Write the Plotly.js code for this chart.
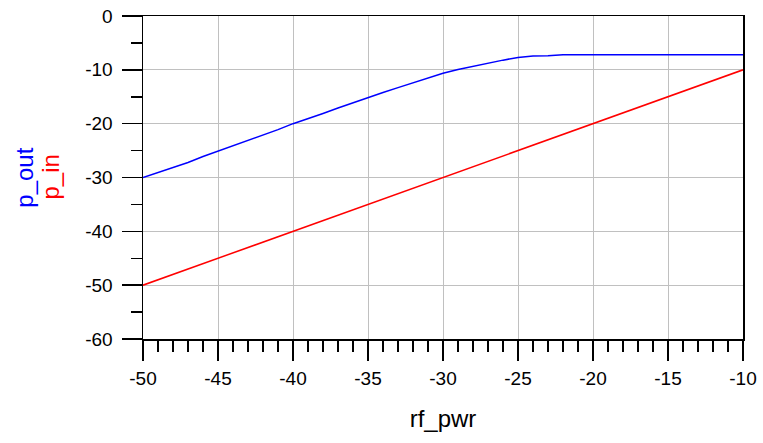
<!DOCTYPE html>
<html>
<head>
<meta charset="utf-8">
<script src="https://cdn.plot.ly/plotly-3.0.1.min.js"></script>
<style>html,body{margin:0;padding:0;background:#fff;}#chart{width:763px;height:443px;}</style>
</head>
<body>
<div id="chart"></div>
<script>
const rfPwr = [-50,-49,-48,-47,-46,-45,-44,-43,-42,-41,-40,-39,-38,-37,-36,-35,-34,-33,-32,-31,-30,-29,-28,-27,-26,-25,-24,-23,-22,-21,-20,-19,-18,-17,-16,-15,-14,-13,-12,-11,-10];
const pOut = [-30,-29.1,-28.2,-27.2,-26.1,-25.1,-24.2,-23.1,-22.1,-21.1,-20.0,-19.1,-18.1,-17.1,-16.1,-15.15,-14.2,-13.3,-12.45,-11.55,-10.65,-9.95,-9.35,-8.8,-8.2,-7.7,-7.45,-7.4,-7.2,-7.2,-7.2,-7.2,-7.2,-7.2,-7.2,-7.2,-7.2,-7.2,-7.2,-7.2,-7.2];
const pIn = [-50,-49,-48,-47,-46,-45,-44,-43,-42,-41,-40,-39,-38,-37,-36,-35,-34,-33,-32,-31,-30,-29,-28,-27,-26,-25,-24,-23,-22,-21,-20,-19,-18,-17,-16,-15,-14,-13,-12,-11,-10];
const xTicks = [-50,-45,-40,-35,-30,-25,-20,-15,-10];
const yTicks = [0,-10,-20,-30,-40,-50,-60];
const seriesNames = ['p_out', 'p_in'];
const seriesColors = ['#0000ff', '#ff0000'];

const font = 'Liberation Sans, Arial, sans-serif';
const traces = [
  {x: rfPwr, y: pOut, mode: 'lines', name: seriesNames[0], line: {color: seriesColors[0], width: 1.5}},
  {x: rfPwr, y: pIn, mode: 'lines', name: seriesNames[1], line: {color: seriesColors[1], width: 1.5}}
];
const axisCommon = {
  showline: true, mirror: true, linecolor: '#000', linewidth: 1.5,
  showgrid: true, gridcolor: '#c0c0c0', gridwidth: 1, zeroline: false,
  ticks: 'outside', ticklen: 20, tickcolor: '#000', tickwidth: 1.5,
  tickfont: {family: font, size: 19, color: '#000'}
};
const layout = {
  width: 763, height: 443,
  margin: {l: 143, r: 20, t: 16, b: 104},
  paper_bgcolor: '#fff', plot_bgcolor: '#fff',
  showlegend: false,
  font: {family: font, size: 19, color: '#000'},
  xaxis: Object.assign({}, axisCommon, {
    range: [-50, -10], tickvals: xTicks, ticktext: xTicks.map(String),
    ticklabelstandoff: 2,
    minor: {dtick: 1, ticks: 'outside', ticklen: 11, tickcolor: '#000', tickwidth: 1.5, showgrid: false},
    title: {text: 'rf_pwr', font: {family: font, size: 24}, standoff: 22}
  }),
  yaxis: Object.assign({}, axisCommon, {
    range: [-60, 0], tickvals: yTicks, ticktext: yTicks.map(String),
    ticklabelstandoff: 5,
    minor: {dtick: 5, ticks: 'outside', ticklen: 11, tickcolor: '#000', tickwidth: 1.5, showgrid: false}
  }),
  annotations: [
    {text: seriesNames[0], xref: 'paper', yref: 'paper', x: -0.198, y: 0.5, xanchor: 'center', yanchor: 'middle',
     textangle: -90, showarrow: false, font: {family: font, size: 24, color: seriesColors[0]}},
    {text: seriesNames[1], xref: 'paper', yref: 'paper', x: -0.155, y: 0.5, xanchor: 'center', yanchor: 'middle',
     textangle: -90, showarrow: false, font: {family: font, size: 24, color: seriesColors[1]}}
  ]
};
Plotly.newPlot('chart', traces, layout, {displayModeBar: false, staticPlot: true});
</script>
</body>
</html>
